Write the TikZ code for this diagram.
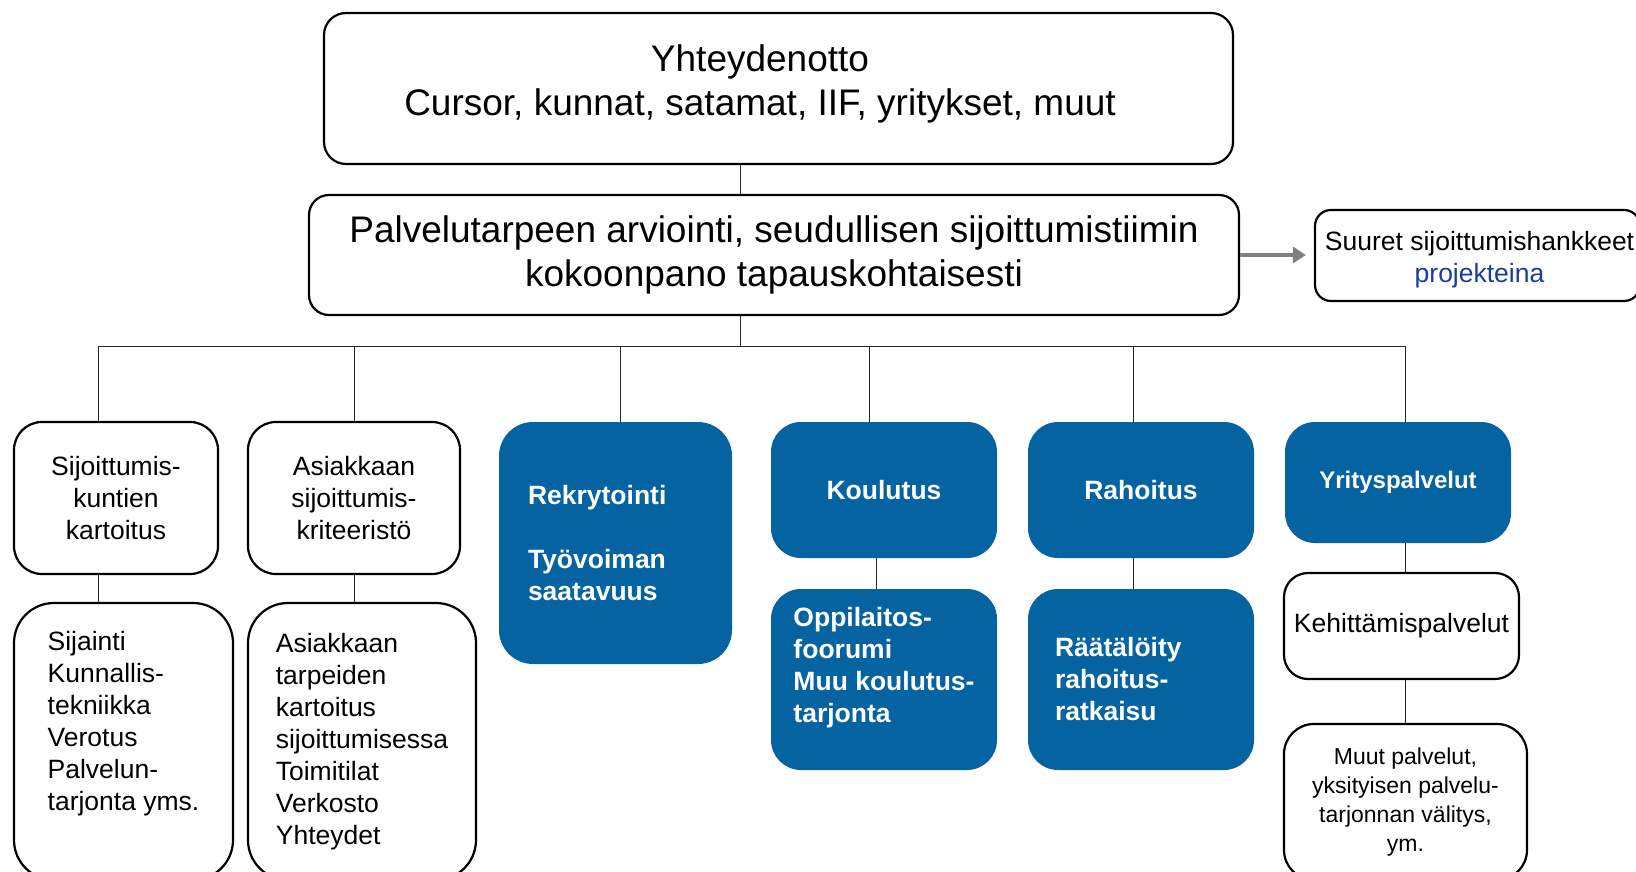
\documentclass[tikz,border=0pt]{standalone}
\usepackage{fontspec}
\setmainfont{Liberation Sans}
\usetikzlibrary{arrows.meta}

\definecolor{tiimiblue}{RGB}{5,99,161}
\definecolor{linkblue}{RGB}{25,60,160}
\definecolor{arrowgray}{RGB}{128,128,128}

\newcommand{\fsbig}{\fontsize{37}{44}\selectfont}
\newcommand{\fsmid}{\fontsize{26.5}{32}\selectfont}
\newcommand{\fssmall}{\fontsize{23}{29}\selectfont}

\tikzset{
  box/.style={draw, line width=2.2pt, rectangle, rounded corners=#1, inner sep=0pt, align=center},
  box/.default=26pt,
  bluebox/.style={fill=tiimiblue, rectangle, rounded corners=30pt, inner sep=0pt,
    text=white, font=\fsmid\bfseries, align=center},
  link/.style={line width=1pt, draw=black!85},
  arr/.style={line width=4pt, draw=arrowgray, -{Triangle[length=13pt,width=16pt]}},
}

\begin{document}
\begin{tikzpicture}[x=1pt, y=-1pt]
    \useasboundingbox (0,0) rectangle (1636,872);

    % ylimmat laatikot
    \node (yht) at (778.5,88.5) [box=22pt, minimum width=909pt, minimum height=151pt,
        label={[name=yhttxt, font=\fsbig, align=center, xshift=-18.5pt, yshift=5pt]center:
        Yhteydenotto\\Cursor, kunnat, satamat, IIF, yritykset, muut}] {};
    \node (pal) at (774,255) [box=20pt, minimum width=930pt, minimum height=120pt, font=\fsbig]
        {Palvelutarpeen arviointi, seudullisen sijoittumistiimin\\kokoonpano tapauskohtaisesti};
    \node (suu) at (1477.5,255.5) [box=16pt, minimum width=325pt, minimum height=91pt,
        label={[name=suutxt, font=\fsmid, align=center, xshift=2pt, yshift=-4pt]center:
        Suuret sijoittumishankkeet\\\textcolor{linkblue}{projekteina}}] {};

    % rivi 1
    \node (sij) at (116,498) [box=28pt, minimum width=204pt, minimum height=152pt, font=\fsmid]
        {Sijoittumis-\\kuntien\\kartoitus};
    \node (asi) at (354,498) [box=28pt, minimum width=212pt, minimum height=152pt, font=\fsmid]
        {Asiakkaan\\sijoittumis-\\kriteeristö};
    \node (rek) at (615.5,543) [bluebox, rounded corners=34pt, minimum width=233pt, minimum height=242pt,
        text width=175pt, align=left] {Rekrytointi\\[32pt]Työvoiman\\saatavuus};
    \node (kou) at (884,490) [bluebox, minimum width=226pt, minimum height=136pt] {Koulutus};
    \node (rah) at (1141,490) [bluebox, minimum width=226pt, minimum height=136pt] {Rahoitus};
    \node (yri) at (1398,482.5) [bluebox, minimum width=226pt, minimum height=121pt,
        font=\fontsize{24}{29}\selectfont\bfseries] {Yrityspalvelut};

    % rivi 2
    \node (sijl) at (123.5,741.5) [box=40pt, minimum width=219pt, minimum height=277pt, font=\fsmid, align=left]
        {Sijainti\\Kunnallis-\\tekniikka\\Verotus\\Palvelun-\\tarjonta yms.\\\strut};
    \node (asil) at (362,741.5) [box=40pt, minimum width=228pt, minimum height=277pt, font=\fsmid, align=left]
        {Asiakkaan\\tarpeiden\\kartoitus\\sijoittumisessa\\Toimitilat\\Verkosto\\Yhteydet};
    \node (koul) at (884,679.5) [bluebox, minimum width=226pt, minimum height=181pt, align=left]
        {Oppilaitos-\\foorumi\\Muu koulutus-\\tarjonta\\[-12pt]\strut};
    \node (rahl) at (1141,679.5) [bluebox, minimum width=226pt, minimum height=181pt, text width=172pt, align=left]
        {Räätälöity\\rahoitus-\\ratkaisu};
    \node (keh) at (1401.5,626) [box=24pt, minimum width=235pt, minimum height=106pt, font=\fsmid]
        {Kehittämispalvelut};
    \node (muu) at (1405.5,802) [box=30pt, minimum width=243pt, minimum height=156pt, font=\fssmall]
        {Muut palvelut,\\yksityisen palvelu-\\tarjonnan välitys,\\ym.};

    % yhdysviivat
    \coordinate (hub) at (740,346);
    \coordinate (b1) at (98,346);
    \coordinate (b2) at (354,346);
    \coordinate (b3) at (620,346);
    \coordinate (b4) at (869,346);
    \coordinate (b5) at (1133,346);
    \coordinate (b6) at (1405,346);

    \draw[link] (yht.south -| hub) -- (pal.north -| hub);
    \draw[link] (pal.south -| hub) -- (hub);
    \draw[link] (b1) -- (b6);
    \foreach \b/\n in {b1/sij, b2/asi, b3/rek, b4/kou, b5/rah, b6/yri}
        \draw[link] (\b) -- (\b |- \n.north);

    \draw[link] (b1 |- sij.south) -- (b1 |- sijl.north);
    \draw[link] (b2 |- asi.south) -- (b2 |- asil.north);
    \draw[link] ([xshift=-8pt]kou.south) -- ([xshift=-8pt]koul.north);
    \draw[link] ([xshift=-8pt]rah.south) -- ([xshift=-8pt]rahl.north);
    \draw[link] (b6 |- yri.south) -- (b6 |- keh.north);
    \draw[link] (b6 |- keh.south) -- (b6 |- muu.north);

    \draw[arr] (pal.east) -- ([xshift=-8pt]suu.west |- pal.east);
\end{tikzpicture}
\end{document}
